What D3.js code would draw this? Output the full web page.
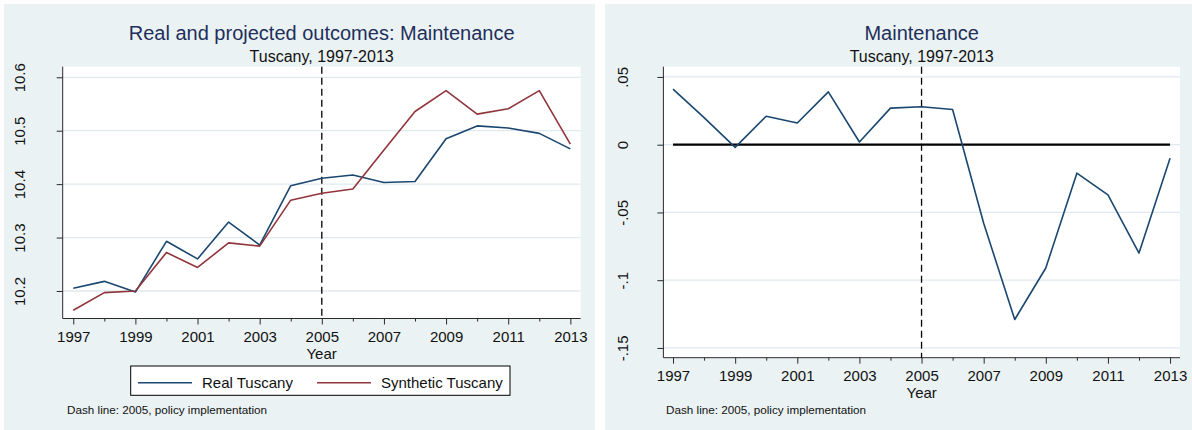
<!DOCTYPE html>
<html>
<head>
<meta charset="utf-8">
<script src="https://cdn.jsdelivr.net/npm/d3@7/dist/d3.min.js"></script>
<style>
  html, body { margin: 0; padding: 0; background: #ffffff; }
  svg { display: block; font-family: "Liberation Sans", Arial, sans-serif; }
</style>
</head>
<body>
<svg id="chart" width="1192" height="430"></svg>
<script>
// Yearly observations, 1997-2013
const years = [1997, 1998, 1999, 2000, 2001, 2002, 2003, 2004, 2005,
               2006, 2007, 2008, 2009, 2010, 2011, 2012, 2013];

// Maintenance outcome (log scale), observed vs. synthetic control
const realTuscany = [10.205, 10.218, 10.198, 10.293, 10.260, 10.329, 10.286, 10.397, 10.411,
                     10.417, 10.403, 10.405, 10.485, 10.509, 10.505, 10.495, 10.466];
const syntheticTuscany = [10.164, 10.197, 10.200, 10.272, 10.244, 10.290, 10.284, 10.370, 10.383,
                          10.391, 10.464, 10.536, 10.575, 10.531, 10.541, 10.575, 10.475];

// Gap: real minus synthetic
const gapTuscany = [0.041, 0.020, -0.002, 0.021, 0.016, 0.039, 0.002, 0.027, 0.028,
                    0.026, -0.058, -0.129, -0.091, -0.021, -0.037, -0.080, -0.010];

const seriesNames = ["Real Tuscany", "Synthetic Tuscany"];
const policyYear = 2005;

// Axis ticks and labels
const xMajorTicks = [1997, 1999, 2001, 2003, 2005, 2007, 2009, 2011, 2013];
const xMinorTicks = [1998, 2000, 2002, 2004, 2006, 2008, 2010, 2012];
const leftYTicks = [10.2, 10.3, 10.4, 10.5, 10.6];
const leftYLabels = ["10.2", "10.3", "10.4", "10.5", "10.6"];
const rightYTicks = [-0.15, -0.1, -0.05, 0, 0.05];
const rightYLabels = ["-.15", "-.1", "-.05", "0", ".05"];

const titles = ["Real and projected outcomes: Maintenance", "Maintenance"];
const subtitle = "Tuscany, 1997-2013";
const xTitle = "Year";
const note = "Dash line: 2005, policy implementation";

const colors = { real: "#1a476f", synth: "#90353b", bg: "#eaf2f3", grid: "#e0e9ed",
                 title: "#1e2f5c", axis: "#2a2a2a" };

const svg = d3.select("#chart");

function drawPanel(cfg) {
  const g = svg.append("g");
  // outer graph region
  g.append("rect").attr("x", cfg.bx).attr("y", cfg.by).attr("width", cfg.bw).attr("height", cfg.bh)
    .attr("fill", colors.bg);
  // plot region
  g.append("rect").attr("x", cfg.px0).attr("y", cfg.py0)
    .attr("width", cfg.px1 - cfg.px0).attr("height", cfg.py1 - cfg.py0).attr("fill", "#ffffff");

  const x = d3.scaleLinear().domain(cfg.xDomain).range([cfg.px0, cfg.px1]);
  const y = d3.scaleLinear().domain(cfg.yDomain).range([cfg.py1, cfg.py0]);

  // horizontal gridlines
  g.append("g").selectAll("line").data(cfg.yTicks).join("line")
    .attr("x1", cfg.px0).attr("x2", cfg.px1)
    .attr("y1", d => y(d)).attr("y2", d => y(d))
    .attr("stroke", colors.grid).attr("stroke-width", 1.3);

  // y axis
  const yAxis = d3.axisLeft(y).tickValues(cfg.yTicks).tickSize(6)
    .tickFormat((d, i) => cfg.yLabels[i]);
  const ya = g.append("g").attr("transform", `translate(${cfg.px0},0)`).call(yAxis);
  ya.select(".domain").attr("d", `M0,${cfg.py0}V${cfg.py1}`).attr("stroke", colors.axis);
  ya.selectAll(".tick line").attr("stroke", colors.axis);
  ya.selectAll(".tick text")
    .attr("x", null).attr("dy", null)
    .attr("transform", `translate(${-cfg.yLabelOffset},0) rotate(-90)`)
    .attr("text-anchor", "middle")
    .attr("font-size", 15).attr("fill", "#111");

  // x axis (major labelled, minor unlabelled)
  const xAxis = d3.axisBottom(x).tickValues(cfg.xMajor).tickSize(6).tickPadding(7)
    .tickFormat(d3.format("d"));
  const xa = g.append("g").attr("transform", `translate(0,${cfg.py1})`).call(xAxis);
  xa.select(".domain").attr("d", `M${cfg.px0},0H${cfg.px1}`).attr("stroke", colors.axis);
  xa.selectAll(".tick line").attr("stroke", colors.axis);
  xa.selectAll(".tick text").attr("font-size", 15).attr("fill", "#111").attr("dy", "0.71em");
  const xm = g.append("g").attr("transform", `translate(0,${cfg.py1})`)
    .call(d3.axisBottom(x).tickValues(cfg.xMinor).tickSize(3).tickFormat(""));
  xm.select(".domain").remove();
  xm.selectAll(".tick line").attr("stroke", colors.axis);

  // axis title
  g.append("text").attr("x", (cfg.px0 + cfg.px1) / 2).attr("y", cfg.py1 + 40)
    .attr("text-anchor", "middle").attr("font-size", 15).attr("fill", "#111").text(xTitle);

  // titles
  g.append("text").attr("x", (cfg.px0 + cfg.px1) / 2).attr("y", 39.5)
    .attr("text-anchor", "middle").attr("font-size", 20).attr("fill", colors.title).text(cfg.title);
  g.append("text").attr("x", (cfg.px0 + cfg.px1) / 2).attr("y", 61.5)
    .attr("text-anchor", "middle").attr("font-size", 16).attr("fill", "#111").text(subtitle);

  // note
  g.append("text").attr("x", cfg.noteX).attr("y", 413.5)
    .attr("font-size", 11.7).attr("fill", "#111").text(note);

  return { g, x, y };
}

// ---- Left panel: real vs synthetic ----
const L = drawPanel({
  bx: 4, by: 4, bw: 591, bh: 430,
  px0: 62.7, px1: 580.6, py0: 66.7, py1: 318.5,
  xDomain: [1996.66, 2013.33], yDomain: [10.1485, 10.6198],
  yTicks: leftYTicks, yLabels: leftYLabels, yLabelOffset: 38,
  xMajor: xMajorTicks, xMinor: xMinorTicks,
  title: titles[0], noteX: 67
});

const lineL = (vals) => d3.line().x((d, i) => L.x(years[i])).y(d => L.y(d))(vals);

L.g.append("line")
  .attr("x1", L.x(policyYear)).attr("x2", L.x(policyYear))
  .attr("y1", L.y.range()[1]).attr("y2", L.y.range()[0])
  .attr("stroke", "#000").attr("stroke-width", 1.3).attr("stroke-dasharray", "7,4");

L.g.append("path").attr("d", lineL(realTuscany)).attr("fill", "none")
  .attr("stroke", colors.real).attr("stroke-width", 1.6).attr("stroke-linejoin", "round");
L.g.append("path").attr("d", lineL(syntheticTuscany)).attr("fill", "none")
  .attr("stroke", colors.synth).attr("stroke-width", 1.6).attr("stroke-linejoin", "round");

// legend
const legend = L.g.append("g");
legend.append("rect").attr("x", 130.7).attr("y", 366).attr("width", 379.3).attr("height", 29.3)
  .attr("fill", "#ffffff").attr("stroke", "#000").attr("stroke-width", 1);
const legendItems = [
  { name: seriesNames[0], color: colors.real, lx: 138 },
  { name: seriesNames[1], color: colors.synth, lx: 317 }
];
legendItems.forEach(it => {
  legend.append("line").attr("x1", it.lx).attr("x2", it.lx + 54)
    .attr("y1", 382.7).attr("y2", 382.7).attr("stroke", it.color).attr("stroke-width", 1.6);
  legend.append("text").attr("x", it.lx + 64).attr("y", 388)
    .attr("font-size", 15).attr("fill", "#111").text(it.name);
});

// ---- Right panel: gap ----
const R = drawPanel({
  bx: 605, by: 4, bw: 600, bh: 430,
  px0: 663.4, px1: 1180, py0: 66.7, py1: 357.7,
  xDomain: [1996.69, 2013.32], yDomain: [-0.1572, 0.05756],
  yTicks: rightYTicks, yLabels: rightYLabels, yLabelOffset: 35,
  xMajor: xMajorTicks, xMinor: xMinorTicks,
  title: titles[1], noteX: 666
});

R.g.append("line")
  .attr("x1", R.x(policyYear)).attr("x2", R.x(policyYear))
  .attr("y1", R.y.range()[1]).attr("y2", R.y.range()[0])
  .attr("stroke", "#000").attr("stroke-width", 1.3).attr("stroke-dasharray", "7,4");

R.g.append("line")
  .attr("x1", R.x(years[0])).attr("x2", R.x(years[years.length - 1]))
  .attr("y1", R.y(0)).attr("y2", R.y(0))
  .attr("stroke", "#000").attr("stroke-width", 2.2);

R.g.append("path")
  .attr("d", d3.line().x((d, i) => R.x(years[i])).y(d => R.y(d))(gapTuscany))
  .attr("fill", "none").attr("stroke", colors.real).attr("stroke-width", 1.6)
  .attr("stroke-linejoin", "round");
</script>
</body>
</html>
